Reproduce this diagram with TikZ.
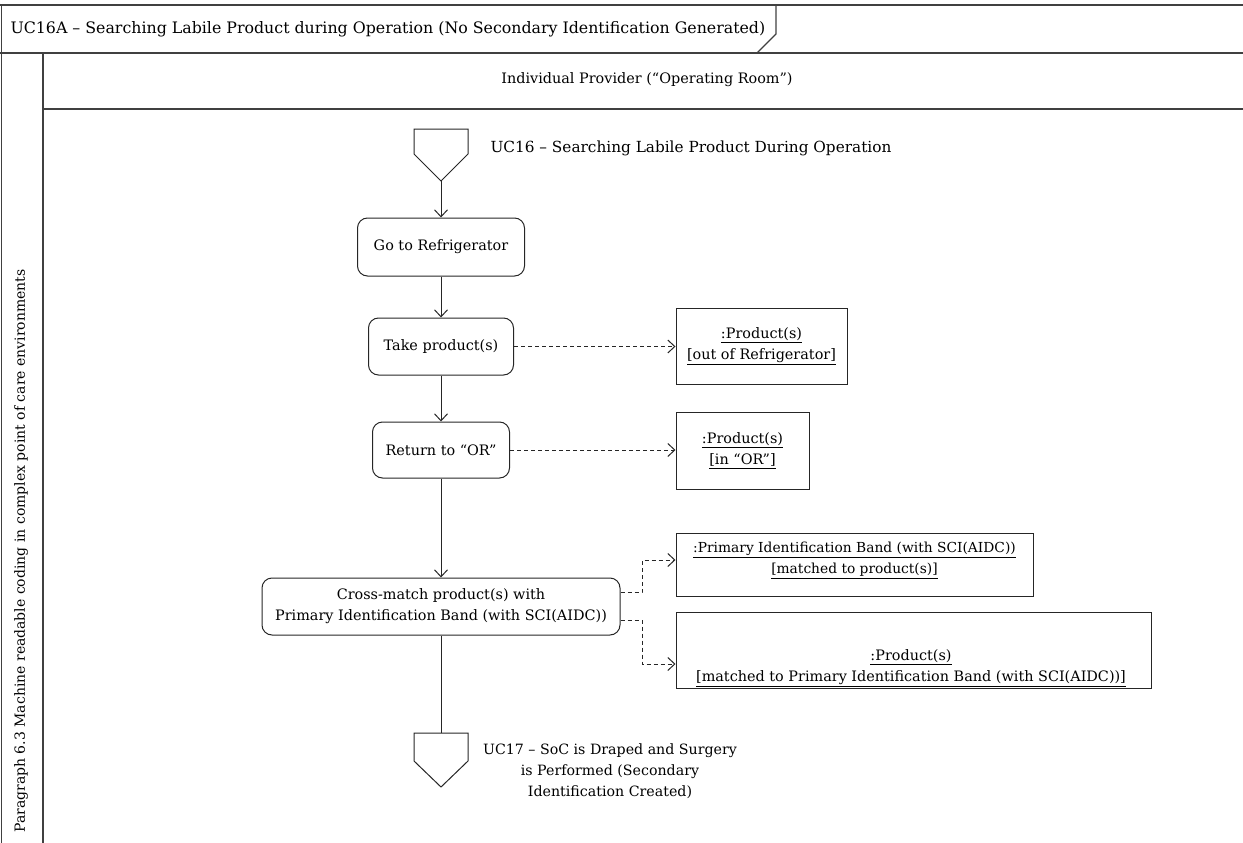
\documentclass[tikz,border=0pt]{standalone}
\usepackage{fontspec}
\setmainfont{DejaVu Serif}
\usetikzlibrary{arrows.meta}
\newcommand{\txtsize}[1]{\fontsize{#1}{21}\selectfont}
\begin{document}
\begin{tikzpicture}[x=1pt,y=-1pt,
  every node/.style={font=\txtsize{14.4}, text=black},
  frameline/.style={draw=black!75, line width=1.2pt},
  action/.style={draw=black!85, rounded corners=10pt, line width=1pt, align=center, inner sep=0pt},
  objbox/.style={draw=black!85, line width=1pt, align=center, inner sep=0pt},
  objtext/.style={align=center, inner sep=0pt},
  flow/.style={draw=black!85, line width=1pt, -{Straight Barb[length=7pt,width=13pt]}},
  objflow/.style={flow, dash pattern=on 4pt off 3pt},
  plainflow/.style={draw=black!85, line width=1pt},
  usecase/.style={draw=black!85, line width=1pt, line join=miter}]

\useasboundingbox (0,0) rectangle (1243,843);

% frame and swimlane
\draw[frameline] (0,5) -- (1243,5);
\draw[frameline] (1.5,5) -- (1.5,843);
\draw[frameline] (776,5) -- (776,34) -- (757,53);
\draw[frameline] (0,53) -- (1243,53);
\draw[frameline] (43,53) -- (43,843);
\draw[frameline] (43,109) -- (1243,109);

\node[anchor=west, font=\txtsize{15.8}] (frametitle) at (7,29) {UC16A – Searching Labile Product during Operation (No Secondary Identification Generated)};
\node (lane) at (647,80) {Individual Provider (“Operating Room”)};
\node[rotate=90, font=\txtsize{14}] (paragraph) at (21,551) {Paragraph 6.3 Machine readable coding in complex point of care environments};

% incoming use case
\draw[usecase] (414,129) -- (468,129) -- (468,154) -- (441,181) -- (414,154) -- cycle;
\coordinate (ucin) at (441,181);
\node[anchor=west, font=\txtsize{15.3}] (ucinlabel) at (487,148) {UC16 – Searching Labile Product During Operation};

% actions
\node[action, minimum width=167pt, minimum height=58pt] (gtr) at (441,247) {Go to Refrigerator};
\node[action, minimum width=145pt, minimum height=57pt] (take) at (441,346.5) {Take product(s)};
\node[action, minimum width=137pt, minimum height=56pt] (ret) at (441,450) {Return to “OR”};
\node[action, minimum width=358pt, minimum height=57pt] (cm) at (441,606.5) {Cross-match product(s) with\\Primary Identification Band (with SCI(AIDC))};

% objects
\node[objbox, minimum width=171pt, minimum height=76pt] (p1) at (761.5,346) {\underline{:Product(s)}\\\underline{[out of Refrigerator]}};
\node[objbox, minimum width=133pt, minimum height=77pt] (p2) at (742.5,450.5) {\underline{:Product(s)}\\\underline{[in “OR”]}};
\node[objbox, minimum width=357pt, minimum height=63pt] (p3) at (854.5,564.5) {};
\node[objtext, font=\txtsize{13.8}] (p3t) at (854.5,560.5) {\underline{:Primary Identification Band (with SCI(AIDC))}\\\underline{[matched to product(s)]}};
\node[objbox, minimum width=475pt, minimum height=76pt] (p4) at (913.5,650.5) {};
\node[objtext] (p4t) at (911,668) {\underline{:Product(s)}\\\underline{[matched to Primary Identification Band (with SCI(AIDC))]}};

% outgoing use case
\draw[usecase] (414,733) -- (468,733) -- (468,761) -- (441,787) -- (414,761) -- cycle;
\coordinate (ucout) at (441,733);
\node[align=center, font=\txtsize{14.2}] (ucoutlabel) at (610,771) {UC17 – SoC is Draped and Surgery\\is Performed (Secondary\\Identification Created)};

% control flow
\draw[flow] (ucin) -- (gtr.north);
\draw[flow] (gtr.south) -- (take.north);
\draw[flow] (take.south) -- (ret.north);
\draw[flow] (ret.south) -- (cm.north);
\draw[plainflow] (cm.south) -- (ucout);

% object flow
\draw[objflow] (take.east) -- (take.east -| p1.west);
\draw[objflow] (ret.east) -- (ret.east -| p2.west);
\coordinate (k1) at (642,592);
\coordinate (k2) at (642,560);
\draw[objflow] (cm.east |- k1) -- (k1) -- (k2) -- (p3.west |- k2);
\coordinate (k3) at (642,620);
\coordinate (k4) at (642,664);
\draw[objflow] (cm.east |- k3) -- (k3) -- (k4) -- (p4.west |- k4);

\end{tikzpicture}
\end{document}
